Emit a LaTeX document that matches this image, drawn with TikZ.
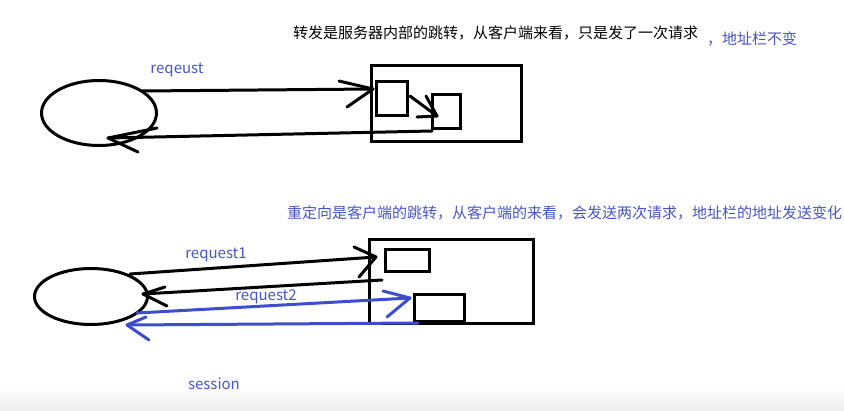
\documentclass[tikz,border=0pt]{standalone}
\usepackage{fontspec}
\setmainfont{Noto Sans CJK SC}
\usetikzlibrary{shapes.geometric}
\definecolor{bluetxt}{RGB}{70,84,200}
\definecolor{blueline}{RGB}{60,78,205}
\tikzset{
  pen/.style={line width=3pt, line cap=round, line join=round},
  bluepen/.style={pen, draw=blueline},
  client/.style={draw, ellipse, line width=3pt, inner sep=0pt},
  srv/.style={draw, rectangle, line width=3pt, inner sep=0pt},
  lbl/.style={text=bluetxt, font=\fontsize{15}{18}\selectfont, inner sep=0pt},
  note/.style={font=\fontsize{15}{18}\selectfont, inner sep=0pt, anchor=west},
}
\begin{document}
\begin{tikzpicture}[x=1pt,y=-1pt]
\useasboundingbox (0,0) rectangle (844,410);
\shade[top color=white, bottom color=black!7] (0,388) rectangle (844,410);

% ---------- top: forward ----------
\node[note] (t1) at (293,33) {转发是服务器内部的跳转，从客户端来看，只是发了一次请求};
\node[note, text=bluetxt] (t2) at (707,39) {，地址栏不变};

\node[client, minimum width=115pt, minimum height=65pt] (e1) at (99,113) {};
\node[srv, minimum width=150pt, minimum height=76pt] (s1) at (446.5,103.5) {};
\node[srv, minimum width=31pt, minimum height=34pt] (b1) at (392,98.5) {};
\node[srv, minimum width=28pt, minimum height=34pt] (b2) at (446.5,111.5) {};
\node[lbl] (l0) at (177,70) {reqeust};

\coordinate (a1s) at (142,91);
\coordinate (a1t) at (373,89);
\coordinate (a1u) at (339,81);
\coordinate (a1l) at (347,107);
\draw[pen] (a1s) -- (a1t);
\draw[pen] (a1u) -- (a1t) -- (a1l);

\coordinate (a2s) at (410,96);
\coordinate (a2t) at (437,116);
\coordinate (a2u) at (426,96);
\coordinate (a2l) at (417,117);
\draw[pen] (a2s) -- (a2t);
\draw[pen] (a2u) -- (a2t) -- (a2l);

\coordinate (a3s) at (432,131);
\coordinate (a3t) at (108,138);
\coordinate (a3u) at (157,128);
\coordinate (a3l) at (138,152);
\draw[pen] (a3s) -- (a3t);
\draw[pen] (a3u) -- (a3t) -- (a3l);

% ---------- bottom: redirect ----------
\node[note, text=bluetxt] (t3) at (287,213) {重定向是客户端的跳转，从客户端的来看，会发送两次请求，地址栏的地址发送变化};

\node[client, minimum width=113pt, minimum height=56pt] (e2) at (91,296.5) {};
\node[srv, minimum width=164pt, minimum height=84pt] (s2) at (451.5,281.5) {};
\node[srv, minimum width=44pt, minimum height=22pt] (bA) at (407.5,260.5) {};
\node[srv, minimum width=50pt, minimum height=27pt] (bB) at (439.5,308) {};
\node[lbl] (l1) at (216,255) {request1};
\node[lbl] (l2) at (266,297) {request2};
\node[lbl] (l3) at (214,384) {session};

\coordinate (r1s) at (130,274);
\coordinate (r1t) at (376,257);
\coordinate (r1u) at (354,247);
\coordinate (r1l) at (359,277);
\draw[pen] (r1s) -- (r1t);
\draw[pen] (r1u) -- (r1t) -- (r1l);

\coordinate (r2s) at (382,280);
\coordinate (r2t) at (143,294);
\coordinate (r2u) at (165,287);
\coordinate (r2l) at (167,306);
\draw[pen] (r2s) -- (r2t);
\draw[pen] (r2u) -- (r2t) -- (r2l);

\coordinate (r3s) at (137,313);
\coordinate (r3t) at (410,298);
\coordinate (r3u) at (383,291);
\coordinate (r3l) at (387,317);
\draw[bluepen] (r3s) -- (r3t);
\draw[bluepen] (r3u) -- (r3t) -- (r3l);

\coordinate (r4s) at (418,323);
\coordinate (r4t) at (127,325);
\coordinate (r4u) at (146,317);
\coordinate (r4l) at (149,340);
\draw[bluepen] (r4s) -- (r4t);
\draw[bluepen] (r4u) -- (r4t) -- (r4l);
\end{tikzpicture}
\end{document}
